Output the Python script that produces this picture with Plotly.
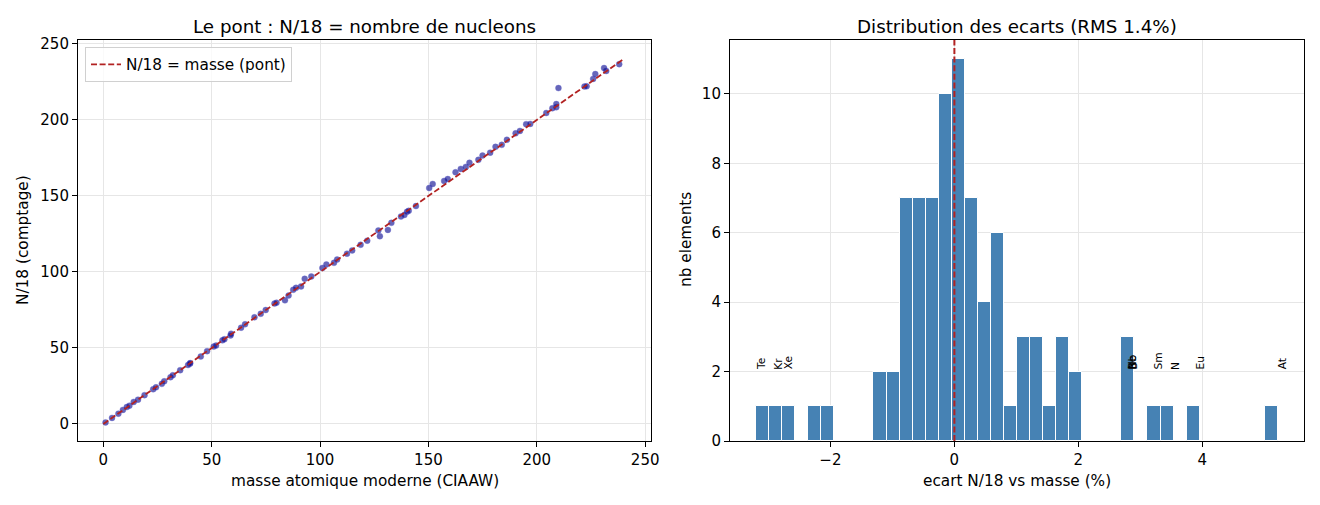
import numpy as np
import plotly.graph_objects as go

# elements (Tc, Pm, Hg, Ne absents)
symbols = ["H", "He", "Li", "Be", "B", "C", "N", "O", "F",
           "Na", "Mg", "Al", "Si", "P", "S", "Cl", "Ar", "K", "Ca",
           "Sc", "Ti", "V", "Cr", "Mn", "Fe", "Co", "Ni", "Cu", "Zn",
           "Ga", "Ge", "As", "Se", "Br", "Kr", "Rb", "Sr", "Y", "Zr",
           "Nb", "Mo", "Ru", "Rh", "Pd", "Ag", "Cd", "In", "Sn", "Sb",
           "Te", "I", "Xe", "Cs", "Ba", "La", "Ce", "Pr", "Nd", "Sm",
           "Eu", "Gd", "Tb", "Dy", "Ho", "Er", "Tm", "Yb", "Lu", "Hf",
           "Ta", "W", "Re", "Os", "Ir", "Pt", "Au", "Tl", "Pb", "Bi",
           "Po", "At", "Rn", "Fr", "Ra", "Ac", "Th", "Pa", "U"]

masse = [1.008, 4.003, 6.94, 9.012, 10.81, 12.011, 14.007, 15.999, 18.998,
         22.990, 24.305, 26.982, 28.085, 30.974, 32.06, 35.45, 39.95, 39.098, 40.078,
         44.956, 47.867, 50.942, 51.996, 54.938, 55.845, 58.933, 58.693, 63.546, 65.38,
         69.723, 72.630, 74.922, 78.971, 79.904, 83.798, 85.468, 87.62, 88.906, 91.224,
         92.906, 95.95, 101.07, 102.906, 106.42, 107.868, 112.414, 114.818, 118.710, 121.760,
         127.60, 126.904, 131.293, 132.905, 137.327, 138.905, 140.116, 140.908, 144.242, 150.36,
         151.964, 157.25, 158.925, 162.500, 164.930, 167.259, 168.934, 173.045, 174.967, 178.49,
         180.948, 183.84, 186.207, 190.23, 192.217, 195.084, 196.967, 204.38, 207.2, 208.980,
         209, 210, 222, 223, 226, 227, 232.038, 231.036, 238.029]

# ecart N/18 vs masse (%)
ecart = [0.08, -0.15, -2.05, 2.78, 2.82, 0.04, 3.48, 0.00, -0.12,
         -0.58, -0.78, -2.22, -0.08, -0.72, 0.06, -0.18, -0.65, -0.80, -0.10,
         -1.20, 0.10, -0.10, -0.80, 0.12, -0.22, 0.74, -0.75, -0.42, 0.35,
         0.65, -0.20, 0.05, 0.32, -0.15, -2.93, -1.15, 0.78, 0.72, -0.80,
         2.80, 1.15, 1.55, 1.98, -0.40, 0.28, -0.36, -0.54, -0.70, -0.95,
         -3.20, 0.30, -2.75, -0.45, -0.60, -1.00, -0.40, -0.50, -0.62, 3.22,
         3.90, 1.68, 1.38, 1.90, 1.75, 1.12, 1.72, 0.42, 0.92, 0.00,
         0.75, -0.12, 0.40, 0.50, 0.30, 1.10, 0.22, 0.10, 0.25, -0.30,
         0.70, 5.22, 0.02, -0.38, 0.45, 1.40, 0.08, 1.35, -0.55]

pont_x = [0, 240]

masse = np.array(masse)
ecart = np.array(ecart)
n18 = masse * (1 + ecart / 100)

counts, edges = np.histogram(ecart, bins=40)
centres = (edges[:-1] + edges[1:]) / 2
largeur = edges[1] - edges[0]

W, H = 1320, 505
OFF = 8  # marge du body de la page
RED = "#b22222"
GRID = "#e6e6e6"
FONT = "DejaVu Sans"
TICK = 15
LABEL = 15.3
TITLE = 18.3

def px_x(p):
    return (p - OFF) / W

def px_y(p):
    return 1 - (p - OFF) / H

fig = go.Figure()

fig.add_trace(go.Scatter(
    x=masse, y=n18, mode="markers", showlegend=False,
    marker=dict(size=6, color="rgba(0,0,139,0.6)",
                line=dict(width=0.7, color="rgba(100,100,210,0.5)")),
    xaxis="x", yaxis="y"))

fig.add_trace(go.Scatter(
    x=pont_x, y=pont_x, mode="lines", name="N/18 = masse (pont)",
    line=dict(color=RED, width=1.8, dash="6px,2.6px"),
    xaxis="x", yaxis="y"))

fig.add_trace(go.Bar(
    x=centres, y=counts, width=largeur, showlegend=False,
    marker=dict(color="#4682b4", line=dict(color="white", width=1)),
    xaxis="x2", yaxis="y2"))

axe = dict(showline=True, linecolor="black", linewidth=1.1, mirror=True,
           ticks="outside", ticklen=5, tickwidth=1.1, tickcolor="black",
           showgrid=True, gridcolor=GRID, gridwidth=1, zeroline=False,
           automargin=False,
           tickfont=dict(family=FONT, size=TICK, color="black"))

fig.update_layout(
    width=W, height=H,
    margin=dict(l=0, r=0, t=0, b=0, autoexpand=False),
    paper_bgcolor="white", plot_bgcolor="white",
    font=dict(family=FONT, size=TICK, color="black"),
    bargap=0,
    xaxis=dict(axe, domain=[px_x(78), px_x(651)], range=[-11.7, 252.7],
               tickvals=[0, 50, 100, 150, 200, 250], anchor="y"),
    yaxis=dict(axe, domain=[px_y(441), px_y(40)], range=[-11.2, 252.6],
               tickvals=[0, 50, 100, 150, 200, 250], anchor="x"),
    xaxis2=dict(axe, domain=[px_x(730), px_x(1304)], range=[-3.62, 5.64],
                tickvals=[-2, 0, 2, 4], ticktext=["\u22122", "0", "2", "4"], anchor="y2"),
    yaxis2=dict(axe, domain=[px_y(441), px_y(40)], range=[0, 11.55],
                tickvals=[0, 2, 4, 6, 8, 10], anchor="x2"),
    legend=dict(x=px_x(85), y=px_y(47), xanchor="left", yanchor="top",
                bgcolor="rgba(255,255,255,0.8)", bordercolor="#d0d0d0", borderwidth=1,
                font=dict(family=FONT, size=15.3), tracegroupgap=0),
)

# ligne verticale a 0
fig.add_shape(type="line", xref="x2", yref="paper", x0=0, x1=0,
              y0=px_y(441), y1=px_y(40),
              line=dict(color=RED, width=2, dash="6px,2.6px"))

# noms des elements hors norme
for s, e in zip(symbols, ecart):
    if abs(e) > 2.5:
        fig.add_annotation(x=e + 0.07, y=2, xref="x2", yref="y2", text=s,
                           textangle=-90, showarrow=False, xanchor="center",
                           yanchor="bottom", font=dict(family=FONT, size=10.6))

textes = [
    ("Le pont : N/18 = nombre de nucleons", px_x(364.5), px_y(26), 0, TITLE),
    ("Distribution des ecarts (RMS 1.4%)", px_x(1017), px_y(26), 0, TITLE),
    ("masse atomique moderne (CIAAW)", px_x(364.5), px_y(481), 0, LABEL),
    ("ecart N/18 vs masse (%)", px_x(1017), px_y(481), 0, LABEL),
    ("N/18 (comptage)", px_x(23), px_y(240), -90, LABEL),
    ("nb elements", px_x(686), px_y(240), -90, LABEL),
]
for t, x, y, ang, sz in textes:
    fig.add_annotation(x=x, y=y, xref="paper", yref="paper", text=t,
                       textangle=ang, showarrow=False, xanchor="center",
                       yanchor="middle", font=dict(family=FONT, size=sz))

fig.write_html("out.html")
